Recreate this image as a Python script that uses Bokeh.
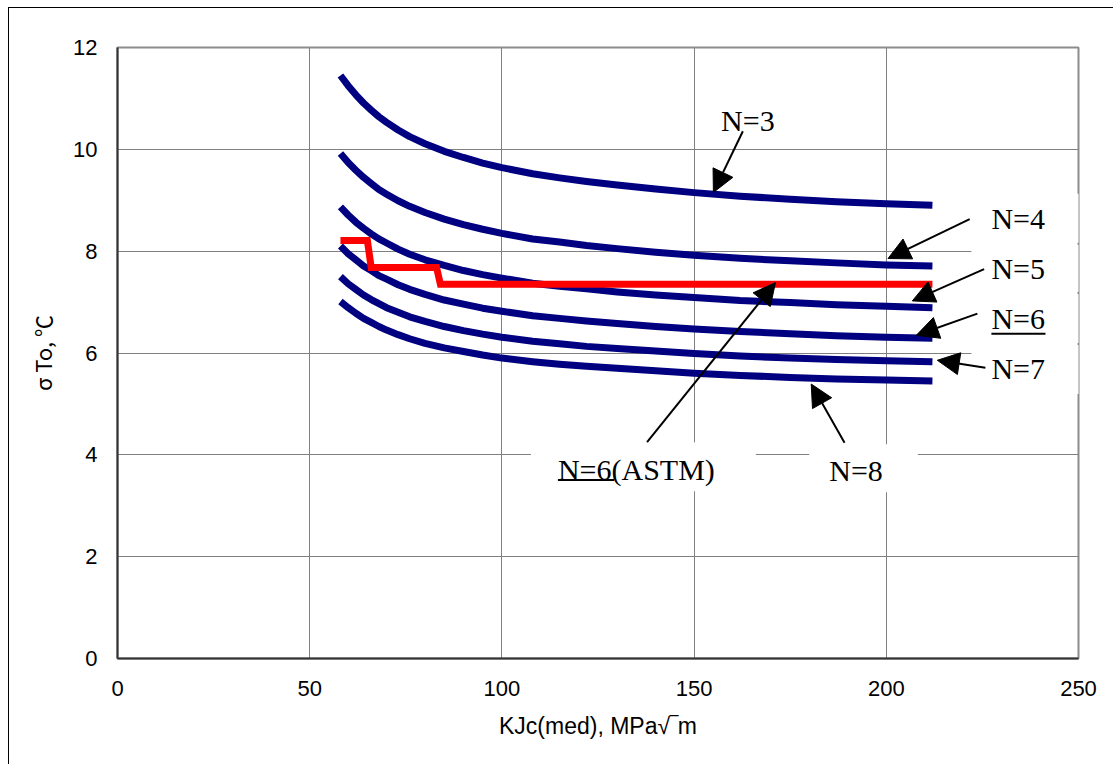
from bokeh.plotting import figure
from bokeh.models import FixedTicker, Label, Arrow, NormalHead
from bokeh.embed import file_html
from bokeh.resources import INLINE

# KJc(med) sample points, MPa*sqrt(m)
kjc = [58, 60, 62, 64, 66, 68, 70, 73, 76, 80, 85, 90, 95, 100,
       108, 115, 122, 130, 140, 150, 162, 175, 187, 200, 212]

# standard deviation of To (degC) for sample sizes N = 3 ... 8
sigma_n3 = [11.45, 11.25, 11.07, 10.91, 10.77, 10.64, 10.53, 10.38, 10.25, 10.11, 9.96, 9.84, 9.73, 9.64,
            9.52, 9.44, 9.37, 9.30, 9.22, 9.15, 9.08, 9.02, 8.97, 8.93, 8.90]
sigma_n4 = [9.92, 9.74, 9.59, 9.45, 9.33, 9.21, 9.12, 8.99, 8.88, 8.76, 8.63, 8.52, 8.43, 8.35,
            8.24, 8.18, 8.11, 8.05, 7.98, 7.92, 7.86, 7.81, 7.77, 7.73, 7.71]
sigma_n5 = [8.87, 8.71, 8.57, 8.45, 8.34, 8.24, 8.16, 8.04, 7.94, 7.83, 7.72, 7.62, 7.54, 7.47,
            7.37, 7.31, 7.26, 7.20, 7.14, 7.09, 7.03, 6.99, 6.95, 6.92, 6.89]
sigma_n6 = [8.10, 7.95, 7.83, 7.71, 7.62, 7.52, 7.45, 7.34, 7.25, 7.15, 7.04, 6.96, 6.88, 6.82,
            6.73, 6.68, 6.63, 6.58, 6.52, 6.47, 6.42, 6.38, 6.34, 6.31, 6.29]
sigma_n7 = [7.50, 7.36, 7.25, 7.14, 7.05, 6.97, 6.89, 6.80, 6.71, 6.62, 6.52, 6.44, 6.37, 6.31,
            6.23, 6.18, 6.13, 6.09, 6.04, 5.99, 5.94, 5.90, 5.87, 5.85, 5.83]
sigma_n8 = [7.01, 6.89, 6.78, 6.68, 6.60, 6.52, 6.45, 6.36, 6.28, 6.19, 6.10, 6.03, 5.96, 5.90,
            5.83, 5.78, 5.74, 5.70, 5.65, 5.60, 5.56, 5.52, 5.49, 5.47, 5.45]

# ASTM step values for N = 6
astm_kjc = [58, 65, 66, 83, 84, 212]
astm_n6 = [8.21, 8.21, 7.68, 7.68, 7.35, 7.35]

x_ticks = [0, 50, 100, 150, 200, 250]
y_ticks = [0, 2, 4, 6, 8, 10, 12]

p = figure(width=1105, height=757, x_range=(0, 250), y_range=(0, 12),
           output_backend="svg", toolbar_location=None,
           min_border_left=108, min_border_right=36,
           min_border_top=39, min_border_bottom=107)
p.styles = {"margin-left": "8px", "margin-top": "7px",
            "border-left": "1px solid black", "border-top": "1px solid black"}

p.background_fill_color = "white"
p.border_fill_color = "white"
p.outline_line_color = "#8c8c8c"
p.outline_line_width = 2

p.xaxis.ticker = FixedTicker(ticks=x_ticks)
p.yaxis.ticker = FixedTicker(ticks=y_ticks)
for ax in (p.xaxis[0], p.yaxis[0]):
    ax.major_tick_out = 0
    ax.major_tick_in = 0
    ax.minor_tick_out = 0
    ax.minor_tick_in = 0
    ax.axis_line_color = "#333333"
    ax.axis_line_width = 2
    ax.major_label_text_font = "Liberation Sans"
    ax.major_label_text_font_size = "22px"
    ax.major_label_text_color = "black"
    ax.axis_label_text_font_style = "normal"
    ax.axis_label_text_color = "black"
p.xaxis.major_label_standoff = 22
p.yaxis.major_label_standoff = 20
p.xaxis.axis_label = "KJc(med), MPa√‾m"
p.xaxis.axis_label_text_font = "Liberation Sans"
p.xaxis.axis_label_text_font_size = "23px"
p.xaxis.axis_label_standoff = 14
p.yaxis.axis_label = "σ To, ℃"
p.yaxis.axis_label_text_font = "Noto Sans CJK JP"
p.yaxis.axis_label_text_font_size = "22px"
p.yaxis.axis_label_standoff = 12

p.grid.grid_line_color = "#808080"
p.grid.grid_line_width = 1

navy = "#000080"
for ys in (sigma_n3, sigma_n4, sigma_n5, sigma_n6, sigma_n7, sigma_n8):
    p.line(kjc, ys, line_color=navy, line_width=7, line_cap="butt", line_join="round")
p.line(astm_kjc, astm_n6, line_color="#ff0000", line_width=7, line_cap="butt", line_join="miter")

serif = "Liberation Serif"


def px_x(px):
    return (px - 117) / 3.84


def px_y(py):
    return (657 - py) / 50.83


def add_label(text, box_left, box_top, pad):
    # pad = (left, right, top, bottom) in pixels around the text
    lab = Label(x=px_x(box_left), y=px_y(box_top), text=text, text_font=serif,
                text_font_size="30px", text_color="black",
                text_baseline="top", text_align="left",
                background_fill_color="white",
                padding=dict(left=pad[0], right=pad[1], top=pad[2], bottom=pad[3]))
    p.add_layout(lab)


add_label("N=3", 712, 100, (8, 8, 3, 2))
add_label("N=4", 970, 193, (20, 69, 8, 8))
add_label("N=5", 970, 244, (20, 69, 7, 7))
add_label("N=6", 970, 293, (20, 69, 8, 8))
add_label("N=7", 970, 344, (20, 69, 7, 9))
add_label("N=8", 808, 443, (20, 35, 10, 5))
add_label("N=6(ASTM)", 530, 441, (27, 41, 11, 5))

# underlines under "N=6"
for x0, x1, yy in ((990, 1044, 332.7), (557, 613, 478.7)):
    p.add_layout(Arrow(x_start=px_x(x0), y_start=px_y(yy), x_end=px_x(x1), y_end=px_y(yy),
                       end=None, line_color="black", line_width=2))

# pointers from labels to curves (start and tip, in pixels)
pointers = [
    (741.7, 130.7, 712.3, 191.7),
    (968.3, 218.3, 886.7, 257.7),
    (982.7, 268.3, 911.0, 300.0),
    (976.0, 312.7, 915.0, 334.3),
    (984.0, 366.7, 936.0, 359.3),
    (843.3, 441.7, 810.0, 383.0),
    (646.0, 441.0, 774.3, 281.7),
]
for xs, ys, xe, ye in pointers:
    p.add_layout(Arrow(x_start=px_x(xs), y_start=px_y(ys), x_end=px_x(xe), y_end=px_y(ye),
                       line_color="black", line_width=2,
                       end=NormalHead(size=22, fill_color="black", line_color="black")))

open("out.html", "w").write(file_html(p, INLINE))
